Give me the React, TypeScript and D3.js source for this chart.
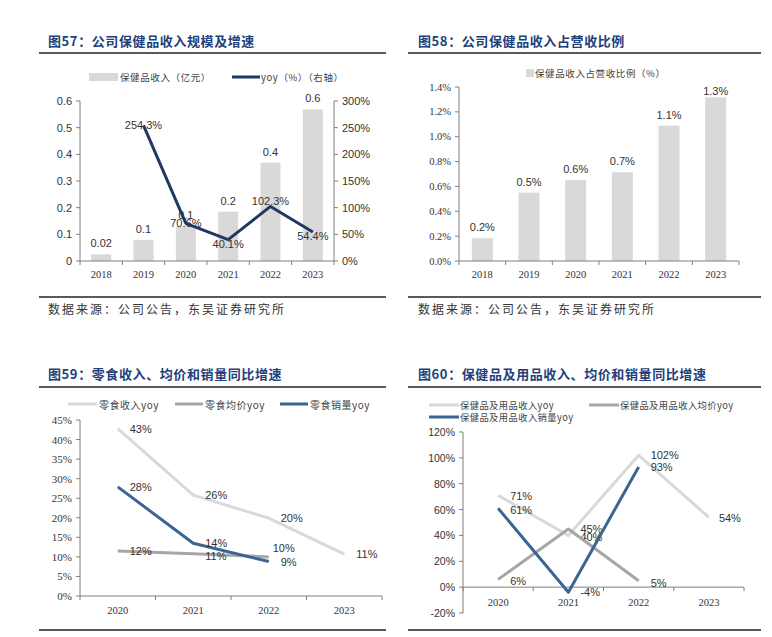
import React from 'react';
import * as d3 from 'd3';

// ---------- data ----------
const years6 = ['2018', '2019', '2020', '2021', '2022', '2023'];
const healthRevenue = [0.025, 0.079, 0.13, 0.185, 0.369, 0.569];
const healthRevenueLabels = ['0.02', '0.1', '0.1', '0.2', '0.4', '0.6'];
const healthYoy: (number | null)[] = [null, 254.3, 70.6, 40.1, 102.3, 54.4];
const healthYoyLabels = ['', '254.3%', '70.6%', '40.1%', '102.3%', '54.4%'];
const leftTicks1 = [0, 0.1, 0.2, 0.3, 0.4, 0.5, 0.6];
const leftTickLabels1 = ['0', '0.1', '0.2', '0.3', '0.4', '0.5', '0.6'];
const rightTicks1 = [0, 50, 100, 150, 200, 250, 300];

const shareOfRevenue = [0.183, 0.55, 0.652, 0.714, 1.089, 1.317];
const shareLabels = ['0.2%', '0.5%', '0.6%', '0.7%', '1.1%', '1.3%'];
const ticks2 = [0, 0.2, 0.4, 0.6, 0.8, 1.0, 1.2, 1.4];

const years4 = ['2020', '2021', '2022', '2023'];
const snackRevYoy = [42.8, 25.8, 19.9, 10.7];
const snackPriceYoy = [11.5, 10.8, 10.0];
const snackVolYoy = [27.9, 13.5, 8.8];
const ticks3 = [0, 5, 10, 15, 20, 25, 30, 35, 40, 45];

const hpRevYoy = [71, 40, 102, 54];
const hpPriceYoy = [6, 45, 5];
const hpVolYoy = [61, -4, 93];
const ticks4 = [-20, 0, 20, 40, 60, 80, 100, 120];

// ---------- styles ----------
const NAVY = '#1f3864';
const BLUE = '#3d6594';
const LIGHT = '#d9d9d9';
const MID = '#a6a6a6';
const TITLE = '#22407a';
const AXIS = '#7f7f7f';
const CJK = '"Noto Sans CJK SC", sans-serif';
const SERIF = '"Liberation Serif", "DejaVu Serif", serif';
const SANS = '"Liberation Sans", Arial, sans-serif';

function Header({ x, y, text, rx1, rx2, ry }: any) {
  return (
    <g>
      <text x={x} y={y} fontFamily={CJK} fontWeight={700} fontSize={13} fill={TITLE} dominantBaseline="central" letterSpacing={0.6}>{text}</text>
      <line x1={rx1} x2={rx2} y1={ry} y2={ry} stroke="#222" strokeWidth={1.6} />
    </g>
  );
}

function Footer({ x, y, rx1, rx2, ry, source }: any) {
  return (
    <g>
      <line x1={rx1} x2={rx2} y1={ry} y2={ry} stroke="#222" strokeWidth={1.6} />
      {source && (
        <text x={x} y={y} fontFamily={CJK} fontSize={12} fill="#333" dominantBaseline="central" letterSpacing={2}>数据来源：公司公告，东吴证券研究所</text>
      )}
    </g>
  );
}

function XAxis({ x, y, labels, labelDy, font }: any) {
  const [r0, r1] = x.range();
  const bw = x.step();
  return (
    <g>
      <line x1={r0} x2={r1} y1={y} y2={y} stroke={AXIS} strokeWidth={1} />
      {d3.range(labels.length + 1).map((i) => (
        <line key={i} x1={r0 + i * bw} x2={r0 + i * bw} y1={y} y2={y + 4} stroke={AXIS} />
      ))}
      {labels.map((l: string) => (
        <text key={l} x={(x(l) as number) + bw / 2} y={y + labelDy} textAnchor="middle" dominantBaseline="central" fontFamily={font || SERIF} fontSize={10.5} fill="#333">{l}</text>
      ))}
    </g>
  );
}

function YAxis({ x, y, ticks, labels, side, font, size }: any) {
  const [b, t] = y.range();
  const dir = side === 'right' ? 1 : -1;
  return (
    <g>
      <line x1={x} x2={x} y1={t} y2={b} stroke={AXIS} strokeWidth={1} />
      {ticks.map((v: number, i: number) => (
        <g key={i}>
          <line x1={x} x2={x + dir * 4} y1={y(v)} y2={y(v)} stroke={AXIS} />
          <text x={x + dir * 8} y={y(v)} textAnchor={side === 'right' ? 'start' : 'end'} dominantBaseline="central" fontFamily={font || SANS} fontSize={size || 11} fill="#333">{labels[i]}</text>
        </g>
      ))}
    </g>
  );
}

function Chart1() {
  const x = d3.scaleBand<string>().domain(years6).range([80, 334]);
  const yL = d3.scaleLinear().domain([0, 0.6]).range([261, 101]);
  const yR = d3.scaleLinear().domain([0, 300]).range([261, 101]);
  const bw = x.step();
  const cx = (k: string) => (x(k) as number) + bw / 2;
  const barW = 20;
  const pts = years6.map((k, i) => ({ k, v: healthYoy[i] })).filter((p) => p.v != null);
  const line = d3.line<any>().x((p) => cx(p.k)).y((p) => yR(p.v));
  const yoyDy = [0, 0, 0, 4, -5, 4];
  return (
    <g>
      <Header x={48} y={40} text="图57：公司保健品收入规模及增速" rx1={39} rx2={386} ry={53} />
      <rect x={89} y={73} width={29} height={8} fill={LIGHT} />
      <text x={120} y={77} fontFamily={CJK} fontSize={9.5} fill="#444" dominantBaseline="central" letterSpacing={0.6}>保健品收入（亿元）</text>
      <line x1={232} x2={260} y1={77} y2={77} stroke={NAVY} strokeWidth={3} />
      <text x={261} y={77} fontFamily={CJK} fontSize={9.5} fill="#444" dominantBaseline="central" letterSpacing={0.6}>yoy（%）（右轴）</text>
      {years6.map((k, i) => (
        <rect key={k} x={cx(k) - barW / 2} y={yL(healthRevenue[i])} width={barW} height={261 - yL(healthRevenue[i])} fill={LIGHT} />
      ))}
      <YAxis x={80} y={yL} ticks={leftTicks1} labels={leftTickLabels1} side="left" />
      <YAxis x={334} y={yR} ticks={rightTicks1} labels={rightTicks1.map((v) => v + '%')} side="right" />
      <XAxis x={x} y={261} labels={years6} labelDy={13} />
      {years6.map((k, i) => (
        <text key={k} x={cx(k)} y={yL(healthRevenue[i]) - 11} textAnchor="middle" dominantBaseline="central" fontFamily={SANS} fontSize={11} fill="#333">{healthRevenueLabels[i]}</text>
      ))}
      <path d={line(pts) as string} fill="none" stroke={NAVY} strokeWidth={3} strokeLinejoin="round" />
      {years6.map((k, i) => healthYoy[i] != null && (
        <text key={k} x={cx(k)} y={yR(healthYoy[i] as number) + yoyDy[i]} textAnchor="middle" dominantBaseline="central" fontFamily={SANS} fontSize={11} fill="#333">{healthYoyLabels[i]}</text>
      ))}
      <Footer x={48} y={308} rx1={39} rx2={386} ry={297} source />
    </g>
  );
}

function Chart2() {
  const x = d3.scaleBand<string>().domain(years6).range([459, 739]);
  const y = d3.scaleLinear().domain([0, 1.4]).range([261, 87]);
  const bw = x.step();
  const cx = (k: string) => (x(k) as number) + bw / 2;
  const barW = 21;
  return (
    <g>
      <Header x={418} y={40} text="图58：公司保健品收入占营收比例" rx1={408} rx2={761} ry={53} />
      <rect x={526} y={69} width={8} height={8} fill={LIGHT} />
      <text x={535} y={73} fontFamily={CJK} fontSize={9.5} fill="#444" dominantBaseline="central" letterSpacing={0.6}>保健品收入占营收比例（%）</text>
      {years6.map((k, i) => (
        <rect key={k} x={cx(k) - barW / 2} y={y(shareOfRevenue[i])} width={barW} height={261 - y(shareOfRevenue[i])} fill={LIGHT} />
      ))}
      <YAxis x={459} y={y} ticks={ticks2} labels={ticks2.map((v) => v.toFixed(1) + '%')} side="left" font={SERIF} size={10.5} />
      <XAxis x={x} y={261} labels={years6} labelDy={13} />
      {years6.map((k, i) => (
        <text key={k} x={cx(k)} y={Math.max(y(shareOfRevenue[i]) - 11, 91)} textAnchor="middle" dominantBaseline="central" fontFamily={SANS} fontSize={11} fill="#333">{shareLabels[i]}</text>
      ))}
      <Footer x={418} y={308} rx1={408} rx2={761} ry={297} source />
    </g>
  );
}

function Series({ x, y, values, color, width, labelDx, labelDy }: any) {
  const bw = x.step();
  const pts = values.map((v: number, i: number) => [(x(years4[i]) as number) + bw / 2, y(v)]);
  const line = d3.line();
  return (
    <g>
      <path d={line(pts) as string} fill="none" stroke={color} strokeWidth={width} strokeLinejoin="round" />
      {values.map((v: number, i: number) => (
        <text key={i} x={pts[i][0] + (labelDx ? labelDx[i] : 12)} y={pts[i][1] + (labelDy ? labelDy[i] : 0)} dominantBaseline="central" fontFamily={SANS} fontSize={11} fill="#333">{Math.round(v) + '%'}</text>
      ))}
    </g>
  );
}

function Chart3() {
  const x = d3.scaleBand<string>().domain(years4).range([80, 382]);
  const y = d3.scaleLinear().domain([0, 45]).range([596, 420]);
  return (
    <g>
      <Header x={48} y={373} text="图59：零食收入、均价和销量同比增速" rx1={39} rx2={386} ry={387} />
      <line x1={68} x2={97} y1={404} y2={404} stroke={LIGHT} strokeWidth={3} />
      <text x={99} y={404} fontFamily={CJK} fontSize={10} fill="#444" dominantBaseline="central" letterSpacing={0.5}>零食收入yoy</text>
      <line x1={175} x2={203} y1={404} y2={404} stroke={MID} strokeWidth={3} />
      <text x={205} y={404} fontFamily={CJK} fontSize={10} fill="#444" dominantBaseline="central" letterSpacing={0.5}>零食均价yoy</text>
      <line x1={280} x2={308} y1={404} y2={404} stroke={BLUE} strokeWidth={3} />
      <text x={310} y={404} fontFamily={CJK} fontSize={10} fill="#444" dominantBaseline="central" letterSpacing={0.5}>零食销量yoy</text>
      <YAxis x={80} y={y} ticks={ticks3} labels={ticks3.map((v) => v + '%')} side="left" font={SERIF} size={11} />
      <XAxis x={x} y={596} labels={years4} labelDy={14} />
      <Series x={x} y={y} values={snackRevYoy} color={LIGHT} width={3} />
      <Series x={x} y={y} values={snackPriceYoy} color={MID} width={3} labelDx={[12, 12, 4]} labelDy={[0, 2, -9]} />
      <Series x={x} y={y} values={snackVolYoy} color={BLUE} width={3} />
      <Footer rx1={39} rx2={386} ry={630} />
    </g>
  );
}

function Chart4() {
  const x = d3.scaleBand<string>().domain(years4).range([463, 744]);
  const y = d3.scaleLinear().domain([-20, 120]).range([613, 432]);
  const y0 = y(0);
  return (
    <g>
      <Header x={418} y={373} text="图60：保健品及用品收入、均价和销量同比增速" rx1={408} rx2={761} ry={387} />
      <line x1={429} x2={459} y1={405} y2={405} stroke={LIGHT} strokeWidth={3} />
      <text x={460} y={405} fontFamily={CJK} fontSize={9.3} fill="#444" dominantBaseline="central" letterSpacing={0.4}>保健品及用品收入yoy</text>
      <line x1={589} x2={619} y1={405} y2={405} stroke={MID} strokeWidth={3} />
      <text x={620} y={405} fontFamily={CJK} fontSize={9.3} fill="#444" dominantBaseline="central" letterSpacing={0.4}>保健品及用品收入均价yoy</text>
      <line x1={429} x2={459} y1={417} y2={417} stroke={BLUE} strokeWidth={3} />
      <text x={460} y={417} fontFamily={CJK} fontSize={9.3} fill="#444" dominantBaseline="central" letterSpacing={0.4}>保健品及用品收入销量yoy</text>
      <YAxis x={463} y={y} ticks={ticks4} labels={ticks4.map((v) => v + '%')} side="left" size={10.5} />
      <XAxis x={x} y={y0} labels={years4} labelDy={15} />
      <Series x={x} y={y} values={hpRevYoy} color={LIGHT} width={3} labelDx={[12, 12, 12, 10]} labelDy={[1, 2, 0, 1]} />
      <Series x={x} y={y} values={hpPriceYoy} color={MID} width={3} labelDy={[2, 0, 2]} />
      <Series x={x} y={y} values={hpVolYoy} color={BLUE} width={3} labelDy={[2, 0, 0]} />
      <Footer rx1={408} rx2={761} ry={630} />
    </g>
  );
}

export default function App() {
  return (
    <svg width={772} height={637} style={{ position: 'absolute', left: 0, top: 0, background: '#fff' }}>
      <rect width={772} height={637} fill="#fff" />
      <Chart1 />
      <Chart2 />
      <Chart3 />
      <Chart4 />
    </svg>
  );
}
